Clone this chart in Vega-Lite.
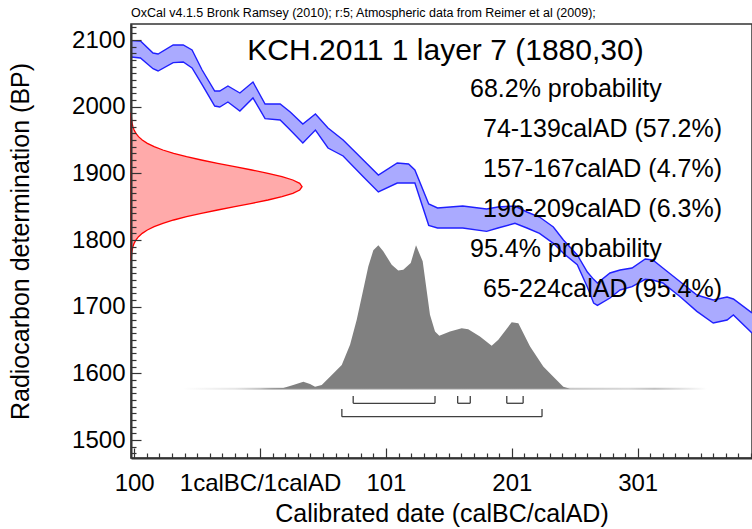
{
  "$schema": "https://vega.github.io/schema/vega-lite/v6.json",
  "width": 621,
  "height": 434,
  "autosize": {"type": "none"},
  "padding": {"left": 131, "top": 24, "right": 0, "bottom": 71},
  "background": "white",
  "title": {
    "text": "OxCal v4.1.5 Bronk Ramsey (2010); r:5; Atmospheric data from Reimer et al (2009);",
    "anchor": "start", "frame": "group", "font": "Liberation Sans", "fontSize": 12.5,
    "fontWeight": "normal", "color": "#000000", "offset": 5
  },
  "config": {
    "view": {"stroke": "#333333", "strokeWidth": 1.5},
    "font": "Liberation Sans",
    "text": {"font": "Liberation Sans", "color": "#000000"}
  },
  "datasets": {
    "curve": [
      {"date": -102.5, "hi": 2099, "lo": 2074.5},
      {"date": -95, "hi": 2098.5, "lo": 2073},
      {"date": -85, "hi": 2080.5, "lo": 2057},
      {"date": -81, "hi": 2079, "lo": 2053.5},
      {"date": -69, "hi": 2092.5, "lo": 2066},
      {"date": -61, "hi": 2092.5, "lo": 2067},
      {"date": -54, "hi": 2085, "lo": 2058},
      {"date": -46, "hi": 2055, "lo": 2033},
      {"date": -36, "hi": 2023.5, "lo": 2001},
      {"date": -32, "hi": 2023.5, "lo": 1999.5},
      {"date": -25.5, "hi": 2031, "lo": 2007},
      {"date": -16, "hi": 2020.5, "lo": 1993.5},
      {"date": -5.6, "hi": 2037, "lo": 2013},
      {"date": 4, "hi": 2004, "lo": 1982},
      {"date": 16, "hi": 2004, "lo": 1980},
      {"date": 24, "hi": 1992, "lo": 1965},
      {"date": 34, "hi": 1974, "lo": 1945.5},
      {"date": 44, "hi": 1989, "lo": 1965},
      {"date": 54, "hi": 1968, "lo": 1938},
      {"date": 66, "hi": 1950, "lo": 1926},
      {"date": 82, "hi": 1920, "lo": 1895},
      {"date": 94, "hi": 1897.5, "lo": 1872},
      {"date": 109, "hi": 1915.5, "lo": 1885.5},
      {"date": 118, "hi": 1914, "lo": 1885.5},
      {"date": 123, "hi": 1905, "lo": 1885.5},
      {"date": 134, "hi": 1854, "lo": 1822},
      {"date": 141, "hi": 1848, "lo": 1818},
      {"date": 161, "hi": 1851, "lo": 1818},
      {"date": 180, "hi": 1846.5, "lo": 1813},
      {"date": 189, "hi": 1849.5, "lo": 1818},
      {"date": 202.5, "hi": 1851, "lo": 1825},
      {"date": 212, "hi": 1842, "lo": 1818},
      {"date": 222, "hi": 1834.5, "lo": 1810},
      {"date": 233, "hi": 1819.5, "lo": 1795},
      {"date": 241, "hi": 1800, "lo": 1780},
      {"date": 252, "hi": 1777.5, "lo": 1763},
      {"date": 260, "hi": 1752, "lo": 1729.5},
      {"date": 265, "hi": 1741, "lo": 1705.5},
      {"date": 268, "hi": 1735.5, "lo": 1702},
      {"date": 278, "hi": 1750.5, "lo": 1713},
      {"date": 286, "hi": 1755, "lo": 1725},
      {"date": 295.5, "hi": 1758, "lo": 1730},
      {"date": 306, "hi": 1771.5, "lo": 1741},
      {"date": 312, "hi": 1770, "lo": 1740},
      {"date": 320, "hi": 1758, "lo": 1735.5},
      {"date": 334, "hi": 1737, "lo": 1714.5},
      {"date": 347, "hi": 1717.5, "lo": 1693},
      {"date": 360, "hi": 1710, "lo": 1675.5},
      {"date": 371, "hi": 1714.5, "lo": 1680},
      {"date": 376, "hi": 1711.5, "lo": 1687.5},
      {"date": 390.8, "hi": 1690.5, "lo": 1660.5}
    ],
    "likelihood": [
      {"bp": 1770, "density": 0.0012}, {"bp": 1775, "density": 0.0022}, {"bp": 1780, "density": 0.0039},
      {"bp": 1785, "density": 0.0067}, {"bp": 1790, "density": 0.0111}, {"bp": 1795, "density": 0.0181},
      {"bp": 1800, "density": 0.0286}, {"bp": 1805, "density": 0.0439}, {"bp": 1810, "density": 0.0657},
      {"bp": 1815, "density": 0.0956}, {"bp": 1820, "density": 0.1353}, {"bp": 1825, "density": 0.1863},
      {"bp": 1830, "density": 0.2494}, {"bp": 1835, "density": 0.3247}, {"bp": 1840, "density": 0.4111},
      {"bp": 1845, "density": 0.5063}, {"bp": 1850, "density": 0.6065}, {"bp": 1855, "density": 0.7066},
      {"bp": 1860, "density": 0.8007}, {"bp": 1865, "density": 0.8825}, {"bp": 1870, "density": 0.9459},
      {"bp": 1875, "density": 0.9862}, {"bp": 1880, "density": 1.0}, {"bp": 1885, "density": 0.9862},
      {"bp": 1890, "density": 0.9459}, {"bp": 1895, "density": 0.8825}, {"bp": 1900, "density": 0.8007},
      {"bp": 1905, "density": 0.7066}, {"bp": 1910, "density": 0.6065}, {"bp": 1915, "density": 0.5063},
      {"bp": 1920, "density": 0.4111}, {"bp": 1925, "density": 0.3247}, {"bp": 1930, "density": 0.2494},
      {"bp": 1935, "density": 0.1863}, {"bp": 1940, "density": 0.1353}, {"bp": 1945, "density": 0.0956},
      {"bp": 1950, "density": 0.0657}, {"bp": 1955, "density": 0.0439}, {"bp": 1960, "density": 0.0286},
      {"bp": 1965, "density": 0.0181}, {"bp": 1970, "density": 0.0111}, {"bp": 1975, "density": 0.0067},
      {"bp": 1980, "density": 0.0039}, {"bp": 1985, "density": 0.0022}, {"bp": 1990, "density": 0.0012}
    ],
    "posterior": [
      {"date": 0, "prob": 0}, {"date": 18.5, "prob": 0.005}, {"date": 26.4, "prob": 0.026},
      {"date": 34.4, "prob": 0.049}, {"date": 39.7, "prob": 0.033}, {"date": 43.7, "prob": 0.014},
      {"date": 49, "prob": 0.026}, {"date": 55.6, "prob": 0.084}, {"date": 64.9, "prob": 0.166},
      {"date": 71.5, "prob": 0.306}, {"date": 76.8, "prob": 0.48}, {"date": 82, "prob": 0.69},
      {"date": 86, "prob": 0.853}, {"date": 90, "prob": 0.965}, {"date": 94, "prob": 1.0},
      {"date": 97.9, "prob": 0.958}, {"date": 104.6, "prob": 0.865}, {"date": 109.8, "prob": 0.825},
      {"date": 113.8, "prob": 0.83}, {"date": 119.7, "prob": 0.877}, {"date": 123.9, "prob": 1.0},
      {"date": 129.2, "prob": 0.888}, {"date": 135, "prob": 0.515}, {"date": 139, "prob": 0.399},
      {"date": 142.4, "prob": 0.369}, {"date": 150.9, "prob": 0.399}, {"date": 160.2, "prob": 0.422},
      {"date": 165.4, "prob": 0.415}, {"date": 174.7, "prob": 0.364}, {"date": 184, "prob": 0.299},
      {"date": 189.3, "prob": 0.341}, {"date": 199.9, "prob": 0.464}, {"date": 205.2, "prob": 0.457},
      {"date": 214.5, "prob": 0.294}, {"date": 225, "prob": 0.154}, {"date": 233, "prob": 0.084},
      {"date": 240.9, "prob": 0.014}, {"date": 246.2, "prob": 0}
    ],
    "tail": [{"from": -61, "to": 355}],
    "ranges": [
      {"level": "68.2%", "from": 74, "to": 139},
      {"level": "68.2%", "from": 157, "to": 167},
      {"level": "68.2%", "from": 196, "to": 209},
      {"level": "95.4%", "from": 65, "to": 224}
    ],
    "heading": [{"label": "KCH.2011 1 layer 7 (1880,30)", "date": 147.3, "bp": 2070}],
    "notes": [
      {"label": "68.2% probability", "date": 166.8, "bp": 2015},
      {"label": "74-139calAD (57.2%)", "date": 177.1, "bp": 1955},
      {"label": "157-167calAD (4.7%)", "date": 177.1, "bp": 1895},
      {"label": "196-209calAD (6.3%)", "date": 177.1, "bp": 1835},
      {"label": "95.4% probability", "date": 166.8, "bp": 1775},
      {"label": "65-224calAD (95.4%)", "date": 177.1, "bp": 1715}
    ]
  },
  "resolve": {"scale": {"x": "independent", "y": "independent"}},
  "layer": [
    {
      "layer": [
        {
          "data": {"name": "tail"},
          "mark": {"type": "rect", "fill": {"gradient": "linear", "x1": 0, "x2": 1, "y1": 0, "y2": 0, "stops": [
            {"offset": 0, "color": "#ffffff"}, {"offset": 0.1, "color": "#e6e6e6"}, {"offset": 0.17, "color": "#b0b0b0"},
            {"offset": 0.74, "color": "#c8c8c8"}, {"offset": 0.85, "color": "#d8d8d8"}, {"offset": 0.9, "color": "#c0c0c0"},
            {"offset": 1, "color": "#ffffff"}]}},
          "encoding": {
            "x": {"field": "from", "type": "quantitative", "scale": {"domain": [-102.5, 390.8], "nice": false, "zero": false}, "axis": null},
            "x2": {"field": "to"},
            "y": {"datum": 0.007, "type": "quantitative", "scale": {"domain": [-0.4833, 2.5432], "nice": false, "zero": false}, "axis": null},
            "y2": {"datum": -0.007}
          }
        },
        {
          "data": {"name": "posterior"},
          "mark": {"type": "area", "fill": "#808080", "interpolate": "linear"},
          "encoding": {
            "x": {"field": "date", "type": "quantitative", "axis": null},
            "y": {"field": "prob", "type": "quantitative", "axis": null},
            "y2": {"datum": 0}
          }
        },
        {
          "data": {"name": "ranges"},
          "transform": [{"filter": "datum.level === '68.2%'"}],
          "layer": [
            {"mark": {"type": "rule", "stroke": "#404040", "strokeWidth": 1.3},
             "encoding": {"x": {"field": "from", "type": "quantitative", "axis": null}, "x2": {"field": "to"}, "y": {"datum": -0.1018, "type": "quantitative", "axis": null}}},
            {"mark": {"type": "rule", "stroke": "#404040", "strokeWidth": 1.3},
             "encoding": {"x": {"field": "from", "type": "quantitative", "axis": null}, "y": {"datum": -0.1018, "type": "quantitative", "axis": null}, "y2": {"datum": -0.0509}}},
            {"mark": {"type": "rule", "stroke": "#404040", "strokeWidth": 1.3},
             "encoding": {"x": {"field": "to", "type": "quantitative", "axis": null}, "y": {"datum": -0.1018, "type": "quantitative", "axis": null}, "y2": {"datum": -0.0509}}}
          ]
        },
        {
          "data": {"name": "ranges"},
          "transform": [{"filter": "datum.level === '95.4%'"}],
          "layer": [
            {"mark": {"type": "rule", "stroke": "#404040", "strokeWidth": 1.3},
             "encoding": {"x": {"field": "from", "type": "quantitative", "axis": null}, "x2": {"field": "to"}, "y": {"datum": -0.1953, "type": "quantitative", "axis": null}}},
            {"mark": {"type": "rule", "stroke": "#404040", "strokeWidth": 1.3},
             "encoding": {"x": {"field": "from", "type": "quantitative", "axis": null}, "y": {"datum": -0.1953, "type": "quantitative", "axis": null}, "y2": {"datum": -0.1416}}},
            {"mark": {"type": "rule", "stroke": "#404040", "strokeWidth": 1.3},
             "encoding": {"x": {"field": "to", "type": "quantitative", "axis": null}, "y": {"datum": -0.1953, "type": "quantitative", "axis": null}, "y2": {"datum": -0.1416}}}
          ]
        }
      ]
    },
    {
      "data": {"name": "likelihood"},
      "mark": {"type": "area", "orient": "horizontal", "fill": "#ffaaaa", "stroke": "#ff0000", "strokeWidth": 1.3},
      "encoding": {
        "y": {"field": "bp", "type": "quantitative", "sort": null, "scale": {"domain": [1473, 2124], "nice": false, "zero": false}, "axis": null},
        "x": {"field": "density", "type": "quantitative", "scale": {"domain": [0, 3.63], "nice": false, "zero": false}, "axis": null},
        "x2": {"datum": 0}
      }
    },
    {
      "resolve": {"axis": {"x": "independent", "y": "independent"}},
      "layer": [
        {
          "data": {"name": "curve"},
          "mark": {"type": "area", "fill": "#aaaaff", "opacity": 1},
          "encoding": {
            "x": {
              "field": "date", "type": "quantitative",
              "scale": {"domain": [-102.5, 390.8], "nice": false, "zero": false},
              "axis": {
                "orient": "bottom", "zindex": 1,
                "values": [-100, 0, 100, 200, 300],
                "labelExpr": "datum.value === -100 ? '100' : (datum.value === 0 ? '1calBC/1calAD' : toString(datum.value + 1))",
                "tickSize": -10, "tickColor": "#333333", "tickWidth": 1.2,
                "domainColor": "#333333", "domainWidth": 2,
                "labelFlush": false, "labelOverlap": false, "labelBound": false,
                "labelFont": "Liberation Sans", "labelFontSize": 24, "labelColor": "#000000", "labelPadding": 23,
                "grid": false,
                "title": "Calibrated date (calBC/calAD)", "titleFont": "Liberation Sans", "titleFontSize": 25,
                "titleFontWeight": "normal", "titleColor": "#000000", "titlePadding": 6
              }
            },
            "y": {
              "field": "hi", "type": "quantitative",
              "scale": {"domain": [1473, 2124], "nice": false, "zero": false},
              "axis": {
                "orient": "left", "zindex": 1,
                "values": [1500, 1600, 1700, 1800, 1900, 2000, 2100],
                "format": "d",
                "tickSize": -10, "tickColor": "#333333", "tickWidth": 1.2,
                "domainColor": "#333333", "domainWidth": 2,
                "labelFlush": false, "labelOverlap": false, "labelBound": false,
                "labelFont": "Liberation Sans", "labelFontSize": 24, "labelColor": "#000000", "labelPadding": 16,
                "grid": false,
                "title": "Radiocarbon determination (BP)", "titleFont": "Liberation Sans", "titleFontSize": 25,
                "titleFontWeight": "normal", "titleColor": "#000000", "titlePadding": 38
              }
            },
            "y2": {"field": "lo"}
          }
        },
        {
          "data": {"name": "curve"},
          "mark": {"type": "line", "stroke": "#1f1fff", "strokeWidth": 1.4},
          "encoding": {
            "x": {
              "field": "date", "type": "quantitative",
              "axis": {
                "orient": "bottom", "zindex": 1,
                "values": [-90,-80,-70,-60,-50,-40,-30,-20,-10,10,20,30,40,50,60,70,80,90,110,120,130,140,150,160,170,180,190,210,220,230,240,250,260,270,280,290,310,320,330,340,350,360,370,380,390],
                "labels": false, "domain": false, "grid": false, "title": null,
                "tickSize": -5, "tickColor": "#333333", "tickWidth": 1.2
              }
            },
            "y": {
              "field": "hi", "type": "quantitative",
              "axis": {
                "orient": "left", "zindex": 1,
                "values": [1480,1490,1510,1520,1530,1540,1550,1560,1570,1580,1590,1610,1620,1630,1640,1650,1660,1670,1680,1690,1710,1720,1730,1740,1750,1760,1770,1780,1790,1810,1820,1830,1840,1850,1860,1870,1880,1890,1910,1920,1930,1940,1950,1960,1970,1980,1990,2010,2020,2030,2040,2050,2060,2070,2080,2090,2110,2120],
                "labels": false, "domain": false, "grid": false, "title": null,
                "tickSize": -5, "tickColor": "#333333", "tickWidth": 1.2
              }
            }
          }
        },
        {
          "data": {"name": "curve"},
          "mark": {"type": "line", "stroke": "#1f1fff", "strokeWidth": 1.4},
          "encoding": {
            "x": {"field": "date", "type": "quantitative", "axis": null},
            "y": {"field": "lo", "type": "quantitative", "axis": null}
          }
        },
        {
          "data": {"name": "heading"},
          "mark": {"type": "text", "align": "center", "baseline": "alphabetic", "fontSize": 30, "font": "Liberation Sans"},
          "encoding": {
            "x": {"field": "date", "type": "quantitative", "axis": null},
            "y": {"field": "bp", "type": "quantitative", "axis": null},
            "text": {"field": "label"}
          }
        },
        {
          "data": {"name": "notes"},
          "mark": {"type": "text", "align": "left", "baseline": "alphabetic", "fontSize": 25, "font": "Liberation Sans"},
          "encoding": {
            "x": {"field": "date", "type": "quantitative", "axis": null},
            "y": {"field": "bp", "type": "quantitative", "axis": null},
            "text": {"field": "label"}
          }
        }
      ]
    }
  ]
}
